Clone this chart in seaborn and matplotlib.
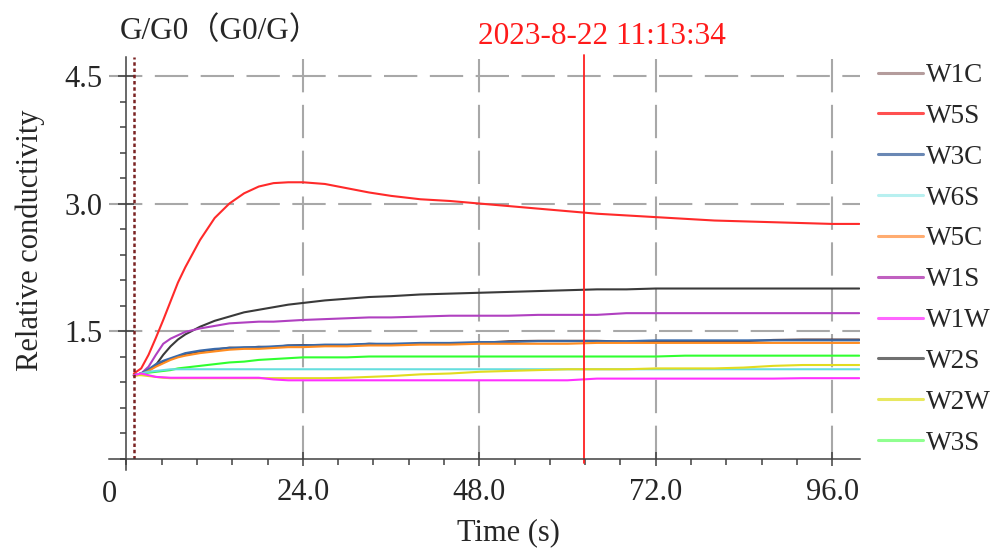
import numpy as np
import pandas as pd
import matplotlib
matplotlib.use("Agg")
import matplotlib.pyplot as plt
import seaborn as sns
from matplotlib.lines import Line2D
from matplotlib.ticker import FixedLocator, MultipleLocator

# ---------------- data ----------------
t = [1, 2, 3, 4, 5, 6, 7, 8, 10, 12, 14, 16, 18, 20, 22, 24, 27, 30, 33, 36,
     40, 44, 48, 52, 56, 60, 64, 68, 72, 76, 80, 84, 88, 92, 96, 99.7]

w5s = [1.00, 1.06, 1.22, 1.42, 1.63, 1.85, 2.07, 2.25, 2.57, 2.83, 3.00, 3.12, 3.20, 3.24, 3.25, 3.25,
       3.23, 3.18, 3.13, 3.09, 3.05, 3.03, 3.00, 2.97, 2.94, 2.91, 2.88, 2.86, 2.84, 2.82, 2.80, 2.79,
       2.78, 2.77, 2.76, 2.76]
w2s = [0.98, 1.00, 1.03, 1.10, 1.22, 1.32, 1.40, 1.46, 1.55, 1.62, 1.67, 1.72, 1.75, 1.78, 1.81, 1.83,
       1.86, 1.88, 1.90, 1.91, 1.93, 1.94, 1.95, 1.96, 1.97, 1.98, 1.99, 1.99, 2.00, 2.00, 2.00, 2.00,
       2.00, 2.00, 2.00, 2.00]
w1s = [0.98, 1.00, 1.08, 1.22, 1.35, 1.41, 1.45, 1.49, 1.53, 1.56, 1.59, 1.60, 1.61, 1.61, 1.62, 1.63,
       1.64, 1.65, 1.66, 1.66, 1.67, 1.68, 1.68, 1.68, 1.69, 1.69, 1.69, 1.71, 1.71, 1.71, 1.71, 1.71,
       1.71, 1.71, 1.71, 1.71]
w1c = [0.98, 1.00, 1.04, 1.10, 1.14, 1.17, 1.20, 1.23, 1.26, 1.28, 1.305, 1.30, 1.315, 1.31, 1.33, 1.335,
       1.33, 1.33, 1.35, 1.34, 1.35, 1.35, 1.36, 1.38, 1.385, 1.385, 1.385, 1.375, 1.38, 1.38, 1.38, 1.38,
       1.395, 1.40, 1.40, 1.40]
w3c = [0.98, 1.00, 1.05, 1.11, 1.15, 1.18, 1.21, 1.24, 1.27, 1.29, 1.30, 1.31, 1.31, 1.32, 1.33, 1.33,
       1.34, 1.34, 1.35, 1.35, 1.36, 1.36, 1.37, 1.37, 1.38, 1.38, 1.38, 1.38, 1.39, 1.39, 1.39, 1.39,
       1.39, 1.39, 1.39, 1.39]
w5c = [0.97, 0.99, 1.03, 1.08, 1.12, 1.16, 1.19, 1.21, 1.24, 1.26, 1.28, 1.29, 1.29, 1.30, 1.31, 1.31,
       1.32, 1.32, 1.33, 1.33, 1.34, 1.34, 1.35, 1.35, 1.35, 1.35, 1.36, 1.36, 1.36, 1.36, 1.36, 1.36,
       1.36, 1.36, 1.36, 1.36]
w3s = [0.98, 1.00, 1.01, 1.02, 1.03, 1.04, 1.06, 1.07, 1.09, 1.11, 1.13, 1.14, 1.16, 1.17, 1.18, 1.19,
       1.19, 1.19, 1.20, 1.20, 1.20, 1.20, 1.20, 1.20, 1.20, 1.20, 1.20, 1.20, 1.20, 1.21, 1.21, 1.21,
       1.21, 1.21, 1.21, 1.21]
w6s = [0.98, 1.00, 1.02, 1.03, 1.04, 1.05, 1.05, 1.05, 1.05, 1.05, 1.05, 1.05, 1.05, 1.05, 1.05, 1.05,
       1.05, 1.05, 1.05, 1.05, 1.05, 1.05, 1.05, 1.05, 1.05, 1.05, 1.05, 1.05, 1.05, 1.05, 1.05, 1.05,
       1.05, 1.05, 1.05, 1.05]
w2w = [0.98, 0.98, 0.97, 0.96, 0.95, 0.945, 0.945, 0.945, 0.945, 0.945, 0.945, 0.945, 0.945, 0.945, 0.945, 0.945,
       0.945, 0.95, 0.96, 0.97, 0.99, 1.00, 1.02, 1.03, 1.04, 1.05, 1.05, 1.05, 1.06, 1.06, 1.06, 1.07,
       1.09, 1.10, 1.10, 1.10]
w1w = [0.98, 1.00, 0.98, 0.96, 0.955, 0.95, 0.95, 0.95, 0.95, 0.95, 0.95, 0.95, 0.95, 0.93, 0.92, 0.92,
       0.92, 0.92, 0.92, 0.92, 0.92, 0.92, 0.92, 0.92, 0.92, 0.92, 0.94, 0.94, 0.94, 0.94, 0.94, 0.94,
       0.94, 0.945, 0.945, 0.945]

legend_order = ["W1C", "W5S", "W3C", "W6S", "W5C", "W1S", "W1W", "W2S", "W2W", "W3S"]
draw_order = ["W5S", "W2S", "W1S", "W1C", "W3C", "W5C", "W3S", "W6S", "W2W", "W1W"]
series = {"W1C": w1c, "W5S": w5s, "W3C": w3c, "W6S": w6s, "W5C": w5c,
          "W1S": w1s, "W1W": w1w, "W2S": w2s, "W2W": w2w, "W3S": w3s}

line_colors = {"W1C": "#5a4040", "W5S": "#ff2a2a", "W3C": "#3a6aaa", "W6S": "#66dede",
               "W5C": "#ff8c20", "W1S": "#b040c0", "W1W": "#ff30ff", "W2S": "#3a3a3a",
               "W2W": "#e2dc20", "W3S": "#30ff30"}
legend_colors = {"W1C": "#b49c9c", "W5S": "#ff5050", "W3C": "#6a88b4", "W6S": "#b8f0f0",
                 "W5C": "#ffac70", "W1S": "#c060c0", "W1W": "#ff66ff", "W2S": "#707070",
                 "W2W": "#e8e860", "W3S": "#90ff90"}

xticks = [24, 48, 72, 96]
xtick_labels = ["24.0", "48.0", "72.0", "96.0"]
yticks = [1.5, 3.0, 4.5]
ytick_labels = ["1.5", "3.0", "4.5"]
cursor_x = 62.3
marker_x = 1.02

df = pd.DataFrame([(name, ti, vi) for name in draw_order for ti, vi in zip(t, series[name])],
                  columns=["series", "time", "value"])

# ---------------- style ----------------
sns.set_style("white")
plt.rcParams["font.family"] = ["Liberation Serif", "Noto Sans CJK SC", "DejaVu Sans"]
plt.rcParams["lines.scale_dashes"] = False

fig = plt.figure(figsize=(9.9, 5.49), dpi=100)
ax = fig.add_axes([109 / 990, 90.5 / 549, (860 - 109) / 990, (458.5 - 57) / 549])

sns.lineplot(data=df, x="time", y="value", hue="series", hue_order=draw_order,
             palette=line_colors, estimator=None, sort=False, linewidth=1.5,
             legend=False, ax=ax)

ax.set_xlim(-2.38, 99.8)
ax.set_ylim(0, 4.724)
ax.set_xlabel("")
ax.set_ylabel("")

for s in ["top", "right"]:
    ax.spines[s].set_visible(False)
ax.spines["left"].set_position(("data", 0))
ax.spines["left"].set_bounds(-0.14, 4.724)
for s in ["left", "bottom"]:
    ax.spines[s].set_color("#404040")
    ax.spines[s].set_linewidth(1.1)

ax.xaxis.set_major_locator(FixedLocator(xticks))
ax.set_xticklabels(xtick_labels)
ax.xaxis.set_minor_locator(MultipleLocator(4.8))
ax.yaxis.set_major_locator(FixedLocator(yticks))
ax.set_yticklabels(ytick_labels)
ax.yaxis.set_minor_locator(MultipleLocator(0.3))

ax.tick_params(axis="x", which="major", direction="inout", length=10, width=1.1,
               color="#404040", labelsize=22, pad=9, bottom=True)
ax.tick_params(axis="x", which="minor", direction="out", length=4, width=1.1,
               color="#404040", bottom=True)
ax.tick_params(axis="y", which="major", direction="inout", length=11, width=1.1,
               color="#404040", labelsize=22, pad=12, left=True)
ax.tick_params(axis="y", which="minor", direction="out", length=4.3, width=1.1,
               color="#404040", left=True)

ax.grid(True, which="major", color="#a8a8a8", linewidth=1.5, linestyle=(0, (24, 9)))
ax.set_axisbelow(True)

ax.axvline(marker_x, color="#7a2222", linewidth=1.8, linestyle=(0, (2.5, 2)))
ax.axvline(cursor_x, color="#ff2020", linewidth=1.3, ymin=-0.01, ymax=1.005, clip_on=False)

ax.annotate("0", xy=(0, 0), xycoords=("data", "axes fraction"), xytext=(-12, -26),
            textcoords="offset points", ha="center", va="center", fontsize=22)

fig.text(120 / 990, 1 - 31 / 549, "G/G0（G0/G）", fontsize=22.5, ha="left", va="center")
fig.text(602 / 990, 1 - 36 / 549, "2023-8-22 11:13:34", color="#ff1a1a", fontsize=22.5,
         ha="center", va="center")
fig.text(30 / 990, 1 - 240 / 549, "Relative conductivity", rotation=90, fontsize=22,
         ha="center", va="center")
fig.text(508 / 990, 1 - 533 / 549, "Time (s)", fontsize=22, ha="center", va="center")

handles = [Line2D([], [], color=legend_colors[n], linewidth=2.2) for n in legend_order]
fig.legend(handles, legend_order, loc="upper left", bbox_to_anchor=(878 / 990, 1 - 63 / 549),
           frameon=False, fontsize=19.5, handlelength=1.66, handletextpad=0.1,
           labelspacing=0.585, borderpad=0, borderaxespad=0)

fig.savefig("out.png", dpi=100)
